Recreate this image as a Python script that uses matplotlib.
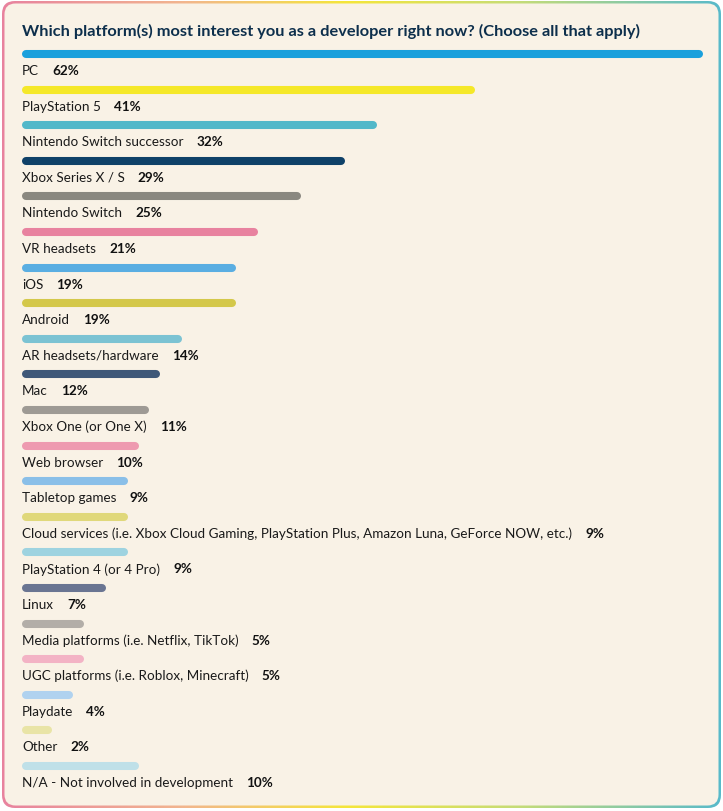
import numpy as np
import matplotlib
matplotlib.use("Agg")
import matplotlib.pyplot as plt
from matplotlib.patches import FancyBboxPatch
from matplotlib.colors import LinearSegmentedColormap

labels = [
    "PC", "PlayStation 5", "Nintendo Switch successor", "Xbox Series X / S",
    "Nintendo Switch", "VR headsets", "iOS", "Android", "AR headsets/hardware",
    "Mac", "Xbox One (or One X)", "Web browser", "Tabletop games",
    "Cloud services (i.e. Xbox Cloud Gaming, PlayStation Plus, Amazon Luna, GeForce NOW, etc.)",
    "PlayStation 4 (or 4 Pro)", "Linux", "Media platforms (i.e. Netflix, TikTok)",
    "UGC platforms (i.e. Roblox, Minecraft)", "Playdate", "Other",
    "N/A - Not involved in development",
]
values = [62, 41, 32, 29, 25, 21, 19, 19, 14, 12, 11, 10, 9, 9, 9, 7, 5, 5, 4, 2, 10]
colors = [
    "#1aa0dc", "#f5e829", "#52b8c9", "#0f4168", "#8a8880", "#e8829f", "#5aaee2",
    "#d4c84a", "#7cc3d3", "#3f5878", "#9e9a94", "#ee9ab0", "#8abfe8", "#e0d87a",
    "#9ed3e0", "#6a7592", "#b3aea8", "#f3b3c5", "#b0d2ef", "#e9e4a6", "#bfe0e8",
]
title = "Which platform(s) most interest you as a developer right now? (Choose all that apply)"

W, H = 723, 812
fig = plt.figure(figsize=(W / 100, H / 100), dpi=100, facecolor="white")

# background card with gradient border
bg = fig.add_axes([0, 0, 1, 1], zorder=0)
bg.set_xlim(0, W)
bg.set_ylim(H, 0)
bg.axis("off")
border_cmap = LinearSegmentedColormap.from_list(
    "border", [(0, "#e8829f"), (0.25, "#f2b58f"), (0.48, "#f5e63a"),
               (0.72, "#c5dc78"), (1, "#58bacb")])
grad = np.linspace(0, 1, 256).reshape(1, -1)
im = bg.imshow(grad, cmap=border_cmap, extent=(0, W, H, 0), aspect="auto")
outer = FancyBboxPatch((2, 2), W - 4, H - 5, boxstyle="round,pad=0,rounding_size=13",
                       transform=bg.transData, facecolor="none", edgecolor="none")
bg.add_patch(outer)
im.set_clip_path(outer)
inner = FancyBboxPatch((4.5, 4.5), W - 9, H - 10, boxstyle="round,pad=0,rounding_size=11",
                       facecolor="#f9f2e6", edgecolor="none")
bg.add_patch(inner)

bg.text(22, 31, title, fontsize=11.8, fontweight="bold", color="#0d2f4c",
        family="Lato", va="center", ha="left")

# bars
top_px, step_px = 55, 35.6
n = len(values)
y0 = top_px - step_px / 2
h_px = step_px * n
ax = fig.add_axes([26 / W, 1 - (y0 + h_px) / H, 673 / W, h_px / H], zorder=1)
ax.patch.set_alpha(0)
ax.set_xlim(0, 62)
ax.set_ylim(n - 0.5, -0.5)
ax.axis("off")

for i, (lab, v, c) in enumerate(zip(labels, values, colors)):
    ax.plot([0, v], [i, i], color=c, lw=5.8, solid_capstyle="round", clip_on=False)
    t = ax.annotate(lab, xy=(0, i), xytext=(-4, -16), textcoords="offset pixels",
                    fontsize=9.7, family="Lato", color="#1a1a1a", va="center", ha="left")
    ax.annotate(f"{v}%", xy=(1, 0.5), xycoords=t, xytext=(13, 0),
                textcoords="offset pixels", fontsize=9.7, family="Lato",
                fontweight="bold", color="#111111", va="center", ha="left")

fig.savefig("out.png", dpi=100, facecolor="white")
